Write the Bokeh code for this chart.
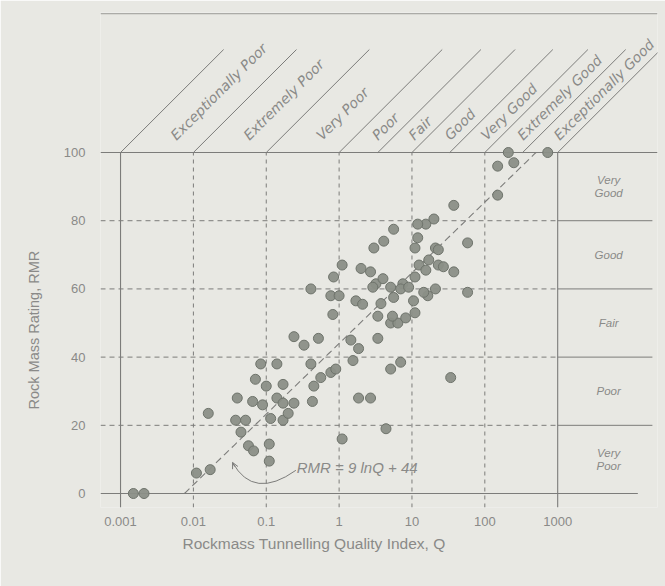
import numpy as np
from bokeh.plotting import figure
from bokeh.models import Range1d, FixedTicker, CustomJSTickFormatter, Arrow, OpenHead, Title
from bokeh.core.properties import value
from bokeh.embed import file_html
from bokeh.resources import INLINE

# ---------------- data ----------------
q_values = [0.0015, 0.0021, 0.011, 0.017, 0.016, 0.04, 0.038, 0.052, 0.045, 0.057,
            0.067, 0.11, 0.11, 0.084, 0.14, 0.071, 0.10, 0.17, 0.065, 0.089,
            0.14, 0.24, 0.17, 0.115, 0.17, 0.2, 0.24, 0.33, 0.52, 0.41,
            0.45, 0.43, 0.56, 0.77, 0.9, 1.45, 1.85, 3.4, 5.1, 1.55,
            5.1, 7.0, 34, 1.85, 2.7, 4.4, 1.1, 0.41, 0.84, 1.1,
            2.0, 0.77, 1.0, 1.7, 2.1, 0.82, 3.4, 2.7, 3.2, 4.0,
            5.1, 5.6, 6.4, 5.4, 8.2, 7.5, 11, 12, 11, 12.5,
            15.5, 17, 21, 23, 27, 37.5, 21, 16.5, 58, 11,
            14.5, 15.5, 20, 5.6, 12, 4.1, 3.0, 58, 23, 37.5,
            150, 150, 250, 210, 730, 10.5, 7.0, 9.0, 2.9, 3.75]
rmr_values = [0, 0, 6, 7, 23.5, 28, 21.5, 21.5, 18, 14,
              12.5, 14.5, 9.5, 38, 38, 33.5, 31.5, 32, 27, 26,
              28, 26.5, 26.5, 22, 21.5, 23.5, 46, 43.5, 45.5, 38,
              31.5, 27, 34, 35.5, 36.5, 45, 42.5, 45.5, 50, 39,
              36.5, 38.5, 34, 28, 28, 19, 16, 60, 63.5, 67,
              66, 58, 58, 56.5, 55.5, 52.5, 52, 65, 61.5, 63,
              60.5, 57.5, 50, 52, 51.5, 61.5, 63.5, 75, 72, 67,
              65.5, 68.5, 72, 67, 66.5, 65, 60, 58, 59, 53,
              59, 79, 80.5, 77.5, 79, 74, 72, 73.5, 71.5, 84.5,
              87.5, 96, 97, 100, 100, 56.5, 60, 60.5, 60.5, 55.7]

x_ticks = [0.001, 0.01, 0.1, 1, 10, 100, 1000]
y_ticks = [0, 20, 40, 60, 80, 100]

# class boundary lines as drawn in the figure
q_class_bounds = [0.001, 0.01, 0.1, 1, 3.4, 10, 33, 100, 330, 1000]
q_class_names = ["Exceptionally Poor", "Extremely Poor", "Very Poor", "Poor", "Fair",
                 "Good", "Very Good", "Extremely Good", "Exceptionally Good"]
rmr_class_bounds = [0, 20, 40, 60, 80, 100]
rmr_class_names = ["Very\nPoor", "Poor", "Fair", "Good", "Very\nGood"]

# RMR = a ln Q + b
fit_a = 9.0
fit_b = 44.0
fit_label = "RMR = 9 lnQ + 44"

x_title = "Rockmass Tunnelling Quality Index, Q"
y_title = "Rock Mass Rating, RMR"

# ---------------- style ----------------
BG = "#e8e8e3"
LINE = "#7c7c7a"
TXT = "#8a8a88"
FONT = "Liberation Sans"

x_lo, x_hi = 10 ** -3.275, 10 ** 4.37
y_lo, y_hi = -4.1, 141.06

p = figure(width=665, height=586, x_axis_type="log",
           x_range=Range1d(x_lo, x_hi), y_range=Range1d(y_lo, y_hi),
           output_backend="svg", toolbar_location=None,
           min_border_left=100, min_border_right=8, min_border_top=12, min_border_bottom=79,
           background_fill_color=BG, border_fill_color=BG, outline_line_color=None)
p.grid.visible = False

# axes (tick labels only)
p.xaxis.ticker = FixedTicker(ticks=x_ticks)
p.xaxis.formatter = CustomJSTickFormatter(code="return String(Number(tick.toPrecision(6)));")
p.yaxis.ticker = FixedTicker(ticks=y_ticks)
for ax in (p.xaxis[0], p.yaxis[0]):
    ax.axis_line_color = None
    ax.major_tick_line_color = None
    ax.minor_tick_line_color = None
    ax.major_label_text_color = TXT
    ax.major_label_text_font = FONT
    ax.major_label_text_font_size = "13px"
p.xaxis.major_label_standoff = 3
p.yaxis.major_label_standoff = 9

# axis titles (placed as titles so they can sit off-centre like the original)
p.add_layout(Title(text=x_title, align="left", offset=82, standoff=8,
                   text_color=TXT, text_font=FONT, text_font_size="15.5px",
                   text_font_style="normal"), "below")
p.add_layout(Title(text=y_title, align="left", offset=98, standoff=38,
                   text_color=TXT, text_font=FONT, text_font_size="14.5px",
                   text_font_style="normal"), "left")

q_min, q_max = x_ticks[0], x_ticks[-1]

# horizontal lines
p.segment(x0=[x_lo, x_lo], y0=[0, 100], x1=[10 ** 4.1, x_hi], y1=[0, 100],
          line_color=LINE, line_width=1.1)
mid_rmr = y_ticks[1:-1]
p.segment(x0=[x_lo] * len(mid_rmr), y0=mid_rmr, x1=[q_max] * len(mid_rmr), y1=mid_rmr,
          line_color=LINE, line_width=1, line_dash="5 4")
p.segment(x0=[q_max] * len(mid_rmr), y0=mid_rmr, x1=[10 ** 4.3] * len(mid_rmr), y1=mid_rmr,
          line_color=LINE, line_width=1)

# vertical lines
p.segment(x0=[q_min, q_max], y0=[y_lo, y_lo], x1=[q_min, q_max], y1=[100, 100],
          line_color=LINE, line_width=1.1)
inner_q = x_ticks[1:-1]
p.segment(x0=inner_q, y0=[y_lo] * len(inner_q), x1=inner_q, y1=[100] * len(inner_q),
          line_color=LINE, line_width=1, line_dash="4 4")

# top scan line
p.segment(x0=[x_lo], y0=[140.7], x1=[x_hi], y1=[140.7], line_color="#9a9a96", line_width=1)

# diagonal class lines
diag_dx = 10 ** 1.415
diag_dy = 30.2
qb = np.array(q_class_bounds, dtype=float)
p.segment(x0=qb, y0=[100] * len(qb), x1=qb * diag_dx, y1=[100 + diag_dy] * len(qb),
          line_color=LINE, line_width=1)

# class labels along the diagonals
lab_x = [10 ** ((np.log10(a) + np.log10(b)) / 2 + 0.22) for a, b in zip(qb[:-1], qb[1:])]
p.text(x=lab_x, y=[104.4] * len(lab_x), text=q_class_names, angle=np.pi / 4,
       text_align="left", text_baseline="alphabetic", text_color=TXT,
       text_font=value("DejaVu Sans"), text_font_style="italic", text_font_size="14px")

# RMR class labels on the right
rb = rmr_class_bounds
r_mid = [(a + b) / 2 for a, b in zip(rb[:-1], rb[1:])]
p.text(x=[10 ** 3.7] * len(r_mid), y=r_mid, text=rmr_class_names,
       text_align="center", text_baseline="middle", text_color=TXT,
       text_font=value(FONT), text_font_style="italic", text_font_size="11.5px",
       text_line_height=1.1)

# regression line
q_start = np.exp(-fit_b / fit_a)
q_end = np.exp((100 - fit_b) / fit_a)
qq = np.geomspace(q_start, q_end, 200)
p.line(qq, fit_a * np.log(qq) + fit_b, line_color=LINE, line_width=1.1, line_dash="7 4")

# annotation
p.quadratic(x0=[0.0345], y0=[9.1], x1=[0.255], y1=[6.8], cx=[0.067], cy=[-2.0],
            line_color=LINE, line_width=1)
p.add_layout(Arrow(end=OpenHead(size=6, line_color=LINE, line_width=1),
                   x_start=0.0368, y_start=7.9, x_end=0.0345, y_end=9.1,
                   line_color=LINE, line_width=1))
p.text(x=[0.262], y=[7.6], text=[fit_label], text_align="left", text_baseline="middle",
       text_color=TXT, text_font=value(FONT), text_font_style="italic", text_font_size="15px")

# data points
p.scatter(q_values, rmr_values, size=10, fill_color="#8b8f87", line_color="#6e736b",
          line_width=1, fill_alpha=0.95)

open("out.html", "w").write(file_html(p, INLINE))
